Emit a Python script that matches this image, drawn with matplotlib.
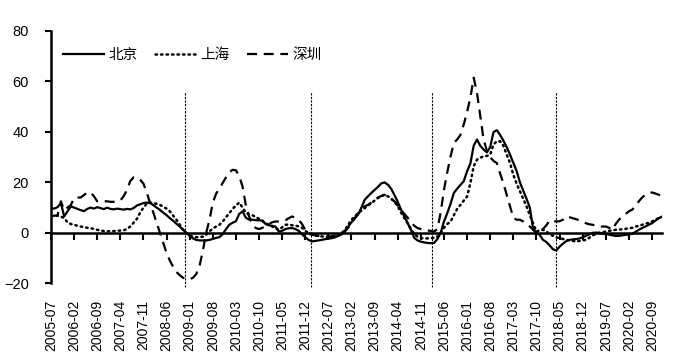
import matplotlib
matplotlib.use("Agg")
import matplotlib.pyplot as plt
import pandas as pd

plt.rcParams['font.family'] = ['Liberation Sans', 'Noto Sans CJK SC', 'DejaVu Sans']

months = pd.period_range('2005-07', '2020-12', freq='M').strftime('%Y-%m').tolist()

beijing = [9.8, 9.6, 10.2, 11.8, 6.5, 8.5, 10.5, 10.0, 9.5, 9.0,
           8.6, 9.5, 10.0, 9.6, 10.2, 9.8, 9.4, 10.0, 9.5, 9.3,
           9.6, 9.4, 9.2, 9.5, 9.3, 9.8, 10.8, 11.3, 11.8, 12.0,
           11.8, 11.0, 10.0, 9.1, 8.0, 7.0, 5.8, 4.8, 3.6, 2.5,
           1.2, 0.0, -1.2, -2.2, -2.8, -3.0, -3.0, -3.0, -2.8, -2.4,
           -2.0, -1.7, -0.5, 1.5, 3.2, 4.0, 4.6, 7.5, 8.5, 6.0,
           5.2, 5.2, 5.0, 5.0, 4.8, 3.5, 3.0, 2.8, 2.5, 0.5,
           0.8, 1.5, 1.8, 1.9, 1.5, 0.8, -0.5, -1.8, -2.8, -3.4,
           -3.2, -3.0, -2.8, -2.5, -2.3, -2.1, -1.8, -1.2, -0.6, 0.8,
           2.5, 4.2, 5.8, 7.2, 10.0, 13.1, 14.5, 15.8, 17.0, 18.2,
           19.6, 20.0, 19.1, 17.5, 15.0, 12.3, 9.2, 6.5, 3.8, 1.2,
           -2.0, -3.0, -3.5, -3.8, -4.0, -4.1, -4.0, -2.5, 0.0, 4.5,
           7.8, 11.5, 15.8, 17.5, 19.0, 20.5, 24.4, 27.5, 34.5, 37.0,
           34.5, 33.0, 31.9, 34.0, 39.9, 40.7, 38.8, 36.5, 34.0, 31.0,
           27.7, 24.5, 20.0, 16.8, 13.5, 10.0, 1.5, 0.0, -0.8, -2.8,
           -3.6, -5.0, -6.5, -7.0, -5.5, -4.3, -3.3, -2.8, -2.6, -2.5,
           -2.2, -1.8, -1.2, -0.6, 0.0, 0.1, 0.0, -0.3, -0.4, -0.7,
           -1.0, -1.2, -1.2, -1.0, -0.8, -0.6, -0.4, 0.4, 1.2, 1.9,
           2.5, 3.2, 3.8, 4.8, 5.8, 6.4]

shanghai = [6.6, 6.6, 6.8, 6.5, 5.8, 4.2, 3.5, 3.2, 2.8, 2.5,
            2.3, 2.0, 1.9, 1.5, 1.2, 0.9, 0.7, 0.6, 0.6, 0.7,
            0.8, 0.9, 1.0, 1.5, 2.5, 4.0, 5.5, 8.0, 10.0, 11.5,
            12.0, 11.8, 11.5, 11.1, 10.3, 9.6, 8.5, 6.8, 5.2, 3.2,
            1.2, 0.0, -1.2, -1.5, -1.7, -1.7, -1.5, -0.8, 0.6, 1.7,
            2.5, 3.2, 4.5, 6.2, 7.8, 9.5, 10.8, 12.0, 10.0, 8.0,
            7.2, 7.0, 6.2, 5.6, 4.8, 3.8, 3.2, 2.5, 1.8, 1.2,
            2.2, 3.2, 3.3, 3.0, 2.8, 2.6, 2.0, 0.8, -0.1, -0.6,
            -1.0, -1.2, -1.4, -1.6, -1.7, -1.5, -1.2, -0.8, 0.0, 1.0,
            3.2, 5.2, 6.5, 7.8, 8.8, 9.8, 10.8, 11.8, 12.8, 13.8,
            14.5, 15.1, 14.5, 13.5, 12.5, 10.5, 8.0, 5.8, 3.8, 1.5,
            -0.5, -1.5, -2.1, -2.2, -2.2, -2.1, -2.0, -1.5, 0.0, 2.0,
            3.5, 4.5, 7.0, 9.5, 11.1, 12.8, 14.4, 19.7, 26.4, 29.0,
            29.8, 30.3, 30.5, 31.0, 35.0, 36.3, 36.3, 34.5, 31.0, 27.7,
            23.0, 19.5, 16.5, 13.5, 10.5, 7.0, 3.8, 0.5, 1.0, 1.2,
            0.5, -0.5, -1.2, -1.8, -2.1, -2.4, -2.8, -3.0, -3.2, -3.4,
            -3.2, -3.0, -2.8, -2.0, -1.0, -0.5, 0.0, 0.3, 0.5, 0.8,
            1.0, 1.2, 1.3, 1.4, 1.6, 1.8, 2.0, 2.5, 2.7, 3.2,
            3.6, 4.0, 4.5, 5.2, 5.8, 6.3]

shenzhen = [6.5, 6.8, 7.0, 12.5, 9.0, 10.0, 11.0, 13.8, 14.0, 14.0,
            15.0, 16.0, 16.0, 14.5, 12.5, 12.5, 12.5, 12.5, 12.3, 12.3,
            12.5, 12.8, 14.5, 17.0, 20.5, 22.0, 22.0, 21.0, 19.5, 16.0,
            11.8, 8.0, 4.0, 0.0, -4.0, -8.0, -11.0, -13.5, -15.5, -16.8,
            -17.8, -18.3, -18.4, -17.8, -16.3, -13.0, -7.0, 0.0, 5.2, 12.0,
            15.5, 17.5, 19.8, 22.0, 24.0, 25.0, 24.8, 22.5, 18.4, 11.0,
            6.5, 3.5, 1.9, 1.5, 2.0, 2.5, 3.5, 4.2, 4.5, 4.5,
            4.5, 5.0, 5.8, 6.5, 6.0, 5.2, 3.5, 1.2, -0.3, -0.8,
            -1.0, -1.2, -1.3, -1.5, -1.5, -1.3, -1.1, -0.8, -0.3, 0.5,
            2.0, 3.8, 5.8, 7.8, 9.5, 10.5, 11.1, 12.0, 13.1, 14.0,
            14.6, 15.1, 14.5, 13.5, 12.5, 10.8, 9.1, 7.5, 6.0, 4.2,
            2.8, 1.9, 1.5, 1.2, 0.9, 0.8, 0.5, 1.5, 8.0, 17.0,
            24.0, 30.3, 35.6, 37.0, 38.8, 43.0, 48.0, 53.5, 61.5, 55.5,
            46.2, 37.0, 32.5, 30.0, 28.5, 27.7, 23.5, 19.7, 15.0, 10.5,
            6.0, 5.2, 5.2, 4.5, 3.5, 2.5, 1.2, 0.0, 0.8, 1.5,
            3.0, 4.9, 4.8, 4.5, 4.6, 5.2, 6.5, 6.2, 5.8, 5.4,
            5.0, 4.5, 3.8, 3.4, 3.2, 2.8, 2.5, 2.5, 2.5, 2.0,
            1.2, 3.5, 5.2, 6.5, 7.5, 8.5, 9.2, 10.5, 12.5, 14.0,
            15.1, 15.8, 16.0, 15.6, 15.1, 14.6]

series_names = ['北京', '上海', '深圳']
tick_labels = months[::7]
vline_positions = [40.6, 78.6, 115.4, 152.9]
yticks = [-20, 0, 20, 40, 60, 80]

fig = plt.figure(figsize=(6.88, 3.61), dpi=100)
ax = fig.add_axes([0.0741, 0.2152, 0.888, 0.699])

x = list(range(len(months)))
ax.plot(x, beijing, color='black', lw=1.6, ls='-', label=series_names[0],
        solid_joinstyle='round')
ax.plot(x, shanghai, color='black', lw=1.8, ls=(0, (0.6, 1.6)),
        dash_capstyle='round', label=series_names[1])
ax.plot(x, shenzhen, color='black', lw=1.6, ls=(0, (4.5, 3.0)),
        label=series_names[2])

for vx in vline_positions:
    ax.plot([vx, vx], [-21.3, 55.8], color='black', lw=0.8,
            ls=(0, (2, 1.2)), clip_on=False)

ax.set_xlim(0, len(months) - 1)
ax.set_ylim(-20, 80)
ax.set_yticks(yticks)
ax.tick_params(axis='y', direction='out', length=4, width=1.5, labelsize=10.5,
               pad=12, colors='black')

for s in ['top', 'right', 'bottom']:
    ax.spines[s].set_visible(False)
ax.spines['left'].set_linewidth(1.8)

tick_idx = list(range(0, len(months), 7))
ax.set_xticks(tick_idx)
ax.set_xticklabels(tick_labels, rotation=90, fontsize=10)
ax.tick_params(axis='x', length=0, pad=12)

sec = ax.secondary_xaxis(0.2)
sec.set_xticks(tick_idx)
sec.set_xticklabels([])
sec.tick_params(axis='x', direction='out', length=5, width=1.5)
sec.spines['bottom'].set_linewidth(1.8)

leg = ax.legend(loc='upper left', bbox_to_anchor=(0.01, 0.955), ncol=3,
                frameon=False, fontsize=10.5, handlelength=2.8,
                handletextpad=0.3, columnspacing=1.2, borderaxespad=0)

fig.savefig('out.png', dpi=100)
